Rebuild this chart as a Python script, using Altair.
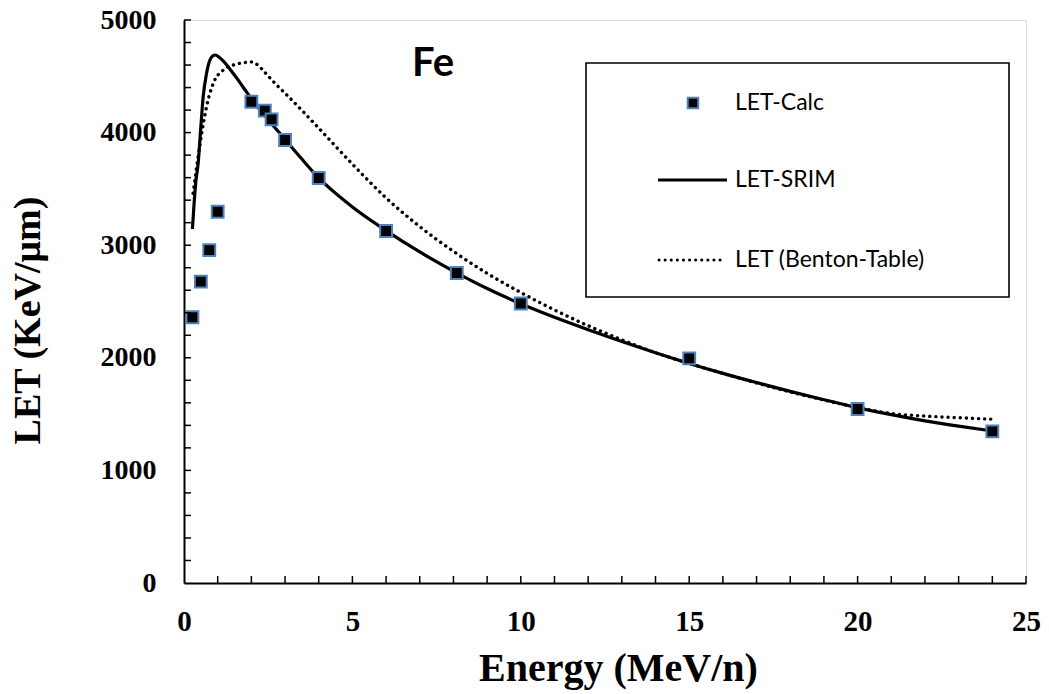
import altair as alt
import pandas as pd

# ---- data ----
calc_E = [0.25, 0.5, 0.75, 1.0, 2.0, 2.4, 2.6, 3.0, 4.0, 6.0, 8.1, 10.0, 15.0, 20.0, 24.0]
calc_LET = [2360, 2676, 2957, 3297, 4274, 4195, 4118, 3934, 3597, 3126, 2753, 2482, 1995, 1545, 1347]

srim_E = [0.25, 0.3, 0.35, 0.42, 0.5, 0.57, 0.67, 0.77, 0.85, 0.93, 1.0, 1.2, 1.4, 1.6, 1.8, 2.0,
          2.5, 3.0, 3.5, 4.0, 5.0, 6.0, 7.0, 8.0, 9.0, 10.0, 11.0, 12.0, 13.0,
          14.0, 15.0, 16.0, 17.0, 18.0, 19.0, 20.0, 21.0, 22.0, 23.0, 24.0]
srim_LET = [3144, 3372, 3560, 3727, 4050, 4319, 4527, 4645, 4680, 4689, 4680, 4625, 4550, 4470, 4385, 4300,
            4115, 3940, 3765, 3597, 3340, 3130, 2940, 2770, 2615, 2480, 2360, 2250, 2145,
            2045, 1950, 1862, 1780, 1702, 1628, 1557, 1495, 1440, 1393, 1350]

benton_E = [0.27, 0.48, 0.67, 0.87, 1.17, 1.56, 1.8, 2.0, 2.2, 2.4, 2.75, 3.0, 4.0, 5.0, 6.0, 7.0, 8.0,
            9.0, 10.0, 11.0, 12.0, 13.0, 14.0, 15.0, 16.0, 17.0, 18.0,
            19.0, 20.0, 21.0, 22.0, 23.0, 24.0]
benton_LET = [3461, 3905, 4230, 4438, 4556, 4608, 4622, 4628, 4598, 4535, 4423, 4350, 4040, 3720, 3420, 3165, 2945,
              2750, 2580, 2425, 2285, 2160, 2045, 1950, 1862, 1777, 1697,
              1625, 1558, 1505, 1483, 1468, 1455]

x_tick_labels = [0, 5, 10, 15, 20, 25]
y_tick_labels = [0, 1000, 2000, 3000, 4000, 5000]
x_minor = list(range(1, 26))
y_minor = list(range(200, 5001, 200))

series_names = ["LET-Calc", "LET-SRIM", "LET (Benton-Table)"]
label_text = "Fe"

calc_df = pd.DataFrame({"E": calc_E, "LET": calc_LET})
srim_df = pd.DataFrame({"E": srim_E, "LET": srim_LET})
benton_df = pd.DataFrame({"E": benton_E, "LET": benton_LET})
xt_df = pd.DataFrame({"E": x_minor})
yt_df = pd.DataFrame({"LET": y_minor})
one = pd.DataFrame({"k": [0]})

W, H = 842, 563
SERIF = "Liberation Serif"
SANS = "Lato"

xaxis = alt.Axis(values=x_tick_labels, ticks=False, tickSize=0, grid=False, labelFlush=False,
                 format="d",
                 labelFont=SERIF, labelFontWeight="bold", labelFontSize=29, labelColor="black",
                 labelPadding=24, domainColor="black", domainWidth=2,
                 title="Energy (MeV/n)", titleFont=SERIF, titleFontWeight="bold",
                 titleFontSize=40, titleColor="black", titleX=434, titleY=97,
                 titleBaseline="alphabetic", titleAlign="center")
yaxis = alt.Axis(values=y_tick_labels, ticks=False, tickSize=0, grid=False, labelFlush=False,
                 format="d",
                 labelFont=SERIF, labelFontWeight="bold", labelFontSize=28, labelColor="black",
                 labelPadding=28, domainColor="black", domainWidth=2,
                 title="LET (KeV/μm)", titleFont=SERIF, titleFontWeight="bold",
                 titleFontSize=38, titleColor="black", titleX=-156, titleY=300,
                 titleBaseline="middle", titleAlign="center", titleAngle=-90)

xs = alt.Scale(domain=[0, 25], nice=False, zero=False)
ys = alt.Scale(domain=[0, 5000], nice=False)

def X():
    return alt.X("E:Q", scale=xs, axis=xaxis)

def Y():
    return alt.Y("LET:Q", scale=ys, axis=yaxis)

srim = alt.Chart(srim_df).mark_line(color="black", strokeWidth=3.2, interpolate="monotone").encode(
    x=X(), y=Y())
benton = alt.Chart(benton_df).mark_line(color="black", strokeWidth=3.4, strokeDash=[0.1, 6],
                                        strokeCap="round", interpolate="monotone").encode(x=X(), y=Y())
calc = alt.Chart(calc_df).mark_square(fill="black", stroke="#4F81BD", strokeWidth=2,
                                      size=140, fillOpacity=1, strokeOpacity=1).encode(x=X(), y=Y())

xticks = alt.Chart(xt_df).mark_rule(color="black", strokeWidth=1.5).encode(
    x=X(), y=alt.value(H), y2=alt.value(H - 7))
yticks = alt.Chart(yt_df).mark_rule(color="black", strokeWidth=1.5).encode(
    y=Y(), x=alt.value(0), x2=alt.value(7))

# legend box
box = alt.Chart(one).mark_rect(fill="white", stroke="black", strokeWidth=1.6).encode(
    x=alt.value(402), x2=alt.value(825), y=alt.value(43), y2=alt.value(277))
leg_sq = alt.Chart(one).mark_square(fill="black", stroke="#4F81BD", strokeWidth=2, size=110,
                                    fillOpacity=1).encode(x=alt.value(509), y=alt.value(83))
leg_l1 = alt.Chart(one).mark_rule(color="black", strokeWidth=3).encode(
    x=alt.value(474), x2=alt.value(543), y=alt.value(160))
leg_l2 = alt.Chart(one).mark_rule(color="black", strokeWidth=3, strokeDash=[0.1, 6],
                                  strokeCap="round").encode(
    x=alt.value(475), x2=alt.value(540), y=alt.value(240))
leg_df = pd.DataFrame({"name": series_names, "py": [83, 160, 240]})
leg_txt = alt.Chart(leg_df).mark_text(font=SANS, fontSize=23, align="left", baseline="middle",
                                      color="black").encode(
    x=alt.value(551), y=alt.Y("py:Q", scale=None), text="name:N")

fe = alt.Chart(pd.DataFrame({"t": [label_text]})).mark_text(
    font=SANS, fontSize=40, fontWeight="bold", align="center", baseline="alphabetic",
    color="black").encode(x=alt.value(249), y=alt.value(56), text="t:N")

chart = alt.layer(srim, benton, calc, xticks, yticks, box, leg_sq, leg_l1, leg_l2, leg_txt, fe).properties(
    width=W, height=H,
    padding={"left": 184, "top": 20, "right": 23, "bottom": 111},
    autosize=alt.AutoSizeParams(type="none"),
).configure_view(stroke="black", strokeWidth=2).configure(background="white")

chart.save("out.html", embed_options={"renderer": "svg", "actions": False})
